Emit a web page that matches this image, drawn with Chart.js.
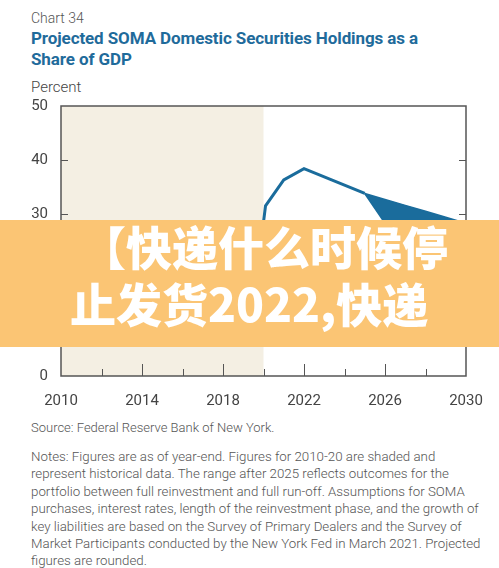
<!DOCTYPE html>
<html>
<head>
<meta charset="utf-8">
<script src="https://cdn.jsdelivr.net/npm/chart.js@4"></script>
<style>
  body { margin: 0; width: 499px; height: 568px; background: #fff; position: relative; overflow: hidden; font-family: Roboto, sans-serif; color: #444; }
  .kicker { position: absolute; left: 31px; top: 10px; font-size: 14px; color: #555; font-weight: 300; }
  .title { position: absolute; left: 31px; top: 28px; font-size: 17px; line-height: 21px; font-weight: bold; color: #1f6b9b; letter-spacing: -0.1px; }
  .unit { position: absolute; left: 31px; top: 78px; font-size: 15px; color: #444; font-weight: 300; }
  .chart-box { position: absolute; left: 0; top: 92px; width: 499px; height: 324px; }
  .source { position: absolute; left: 31px; top: 420px; font-size: 13px; color: #555; font-weight: 300; }
  .notes { position: absolute; left: 31px; top: 448px; font-size: 13.3px; line-height: 17.4px; color: #555; font-weight: 300; }
  .banner { position: absolute; left: 0; top: 220px; width: 499px; height: 127px; background: #fbc574; color: #fff;
            font-family: "Noto Sans CJK SC", sans-serif; font-weight: 900; font-size: 46px; line-height: 57px;
            padding: 0 0 0 70px; box-sizing: border-box; white-space: nowrap; }
  .banner .txt { margin-top: -3px; }
  .banner .l1 { padding-left: 10px; }
</style>
</head>
<body>
<div class="kicker">Chart 34</div>
<div class="title">Projected SOMA Domestic Securities Holdings as a<br>Share of GDP</div>
<div class="unit">Percent</div>
<div class="chart-box"><canvas id="soma"></canvas></div>
<div class="source">Source: Federal Reserve Bank of New York.</div>
<div class="notes">Notes: Figures are as of year-end. Figures for 2010-20 are shaded and<br>represent historical data. The range after 2025 reflects outcomes for the<br>portfolio between full reinvestment and full run-off. Assumptions for SOMA<br>purchases, interest rates, length of the reinvestment phase, and the growth of<br>key liabilities are based on the Survey of Primary Dealers and the Survey of<br>Market Participants conducted by the New York Fed in March 2021. Projected<br>figures are rounded.</div>
<div class="banner"><div class="txt"><span class="l1">【快递什么时候停</span><br>止发货2022,快递</div></div>

<script>
// projection path up to 2025
var baseYears = [2020, 2020.1, 2021, 2022, 2025];
var baseShare = [28.5, 31.5, 36.3, 38.4, 33.8];

// range after 2025
var rangeYears = [2025, 2026, 2027, 2028, 2029, 2030];
var fullReinvest = [33.8, 32.7, 31.6, 30.5, 29.4, 28.3];
var fullRunoff = [33.8, 28.3, 24.5, 21.5, 19.5, 18];

var yTicks = [0, 10, 20, 30, 40, 50];
var xLabels = [2010, 2014, 2018, 2022, 2026, 2030];
var histStart = 2010, histEnd = 2020;

var blue = '#1a6c9c';
var axisGray = '#555';

function pts(xs, ys) {
	var out = [];
	for (var i = 0; i < xs.length; i++) {
		out.push({x: xs[i], y: ys[i]});
	}
	return out;
}

// shaded history band + inward ticks
var frameDeco = {
	id: 'frameDeco',
	beforeDatasetsDraw: function(chart) {
		var c = chart.ctx, xs = chart.scales.x, a = chart.chartArea;
		c.save();
		c.fillStyle = '#f4efe3';
		var l = xs.getPixelForValue(histStart), r = xs.getPixelForValue(histEnd);
		c.fillRect(l, a.top, r - l, a.bottom - a.top);
		c.restore();
	},
	afterDatasetsDraw: function(chart) {
		var c = chart.ctx, xs = chart.scales.x, ys = chart.scales.y, a = chart.chartArea;
		c.save();
		c.strokeStyle = axisGray;
		c.lineWidth = 1.5;
		c.strokeRect(a.left, a.top, a.right - a.left, a.bottom - a.top);
		c.lineWidth = 1;
		c.beginPath();
		for (var v = 2012; v < 2030; v += 2) {
			var px = Math.round(xs.getPixelForValue(v)) + 0.5;
			var len = (v - 2010) % 4 === 0 ? 12 : 7;
			c.moveTo(px, a.bottom);
			c.lineTo(px, a.bottom - len);
		}
		for (var k = 1; k < yTicks.length - 1; k++) {
			var py = Math.round(ys.getPixelForValue(yTicks[k])) + 0.5;
			c.moveTo(a.left, py);
			c.lineTo(a.left + 7, py);
			c.moveTo(a.right, py);
			c.lineTo(a.right - 7, py);
		}
		c.stroke();
		c.restore();
	}
};

var config_soma = {
	type: 'line',
	data: {
		datasets: [{
			data: pts(baseYears, baseShare),
			borderColor: blue,
			borderWidth: 3,
			pointRadius: 0,
			fill: false
		}, {
			data: pts(rangeYears, fullReinvest),
			borderColor: blue,
			borderWidth: 1.5,
			pointRadius: 0,
			fill: false
		}, {
			data: pts(rangeYears, fullRunoff),
			borderColor: blue,
			borderWidth: 1.5,
			backgroundColor: blue,
			pointRadius: 0,
			fill: '-1'
		}]
	},
	options: {
		responsive: true,
		maintainAspectRatio: false,
		animation: false,
		layout: { padding: { top: 0, left: 0, right: 0, bottom: 0 } },
		plugins: { legend: { display: false }, tooltip: { enabled: false } },
		scales: {
			x: {
				type: 'linear',
				min: 2010,
				max: 2030,
				grid: { display: false },
				border: { display: false },
				ticks: {
					stepSize: 4,
					autoSkip: false,
					maxRotation: 0,
					padding: 8,
					color: '#444',
					font: { family: 'Roboto', size: 15 },
					callback: function(v) { return xLabels.indexOf(v) >= 0 ? String(v) : ''; }
				},
				afterFit: function(s) { s.height = 40; }
			},
			y: {
				min: 0,
				max: 50,
				grid: { display: false },
				border: { display: false },
				ticks: {
					stepSize: 10,
					padding: 5,
					color: '#444',
					font: { family: 'Roboto', size: 15 }
				},
				afterFit: function(s) { s.width = 61; }
			},
			yr: {
				position: 'right',
				min: 0,
				max: 50,
				grid: { display: false },
				border: { display: false },
				ticks: { display: false },
				afterFit: function(s) { s.width = 33; }
			}
		}
	},
	plugins: [frameDeco]
};

window.onload = function() {
	var ctx = document.getElementById('soma').getContext('2d');
	window.somaChart = new Chart(ctx, config_soma);
};
</script>
</body>
</html>
